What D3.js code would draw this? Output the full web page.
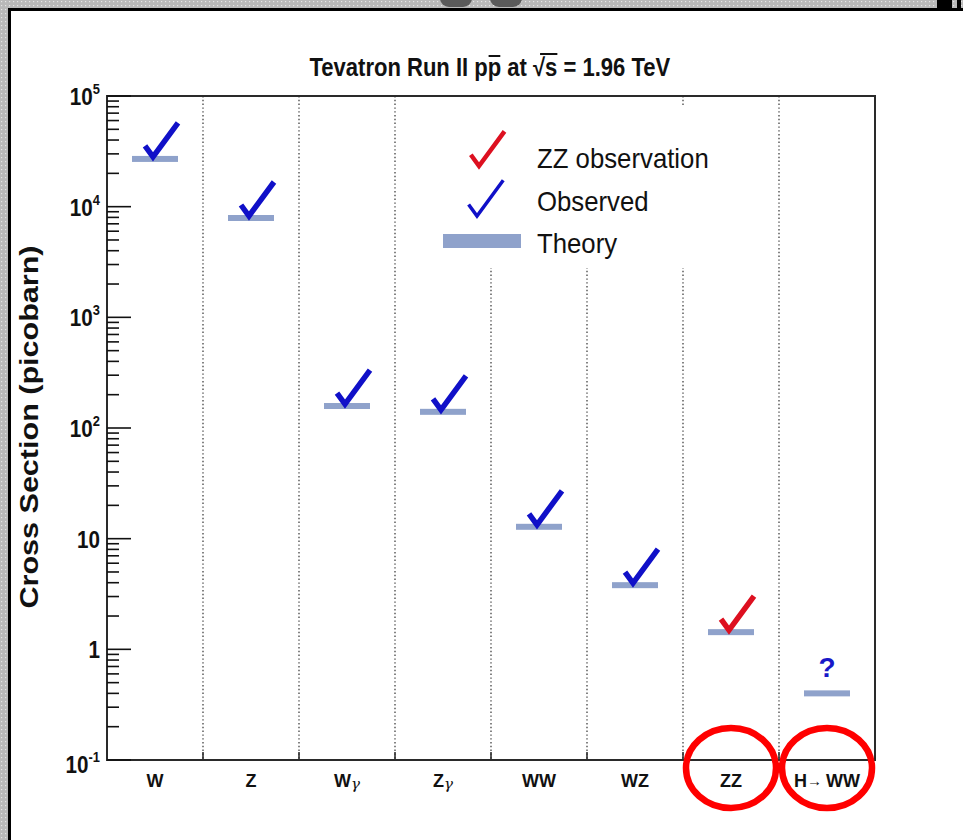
<!DOCTYPE html>
<html>
<head>
<meta charset="utf-8">
<script src="https://cdn.jsdelivr.net/npm/d3@7"></script>
<style>
  html, body { margin: 0; padding: 0; background: #fff; }
  svg { display: block; }
  text { font-family: "Liberation Sans", Arial, Helvetica, sans-serif; }
</style>
</head>
<body>
<svg id="chart" width="963" height="840"></svg>
<script>
// Diboson and W/Z production cross sections at the Tevatron
const categories = ["W", "Z", "Wγ", "Zγ", "WW", "WZ", "ZZ", "H→WW"];
const theory = [27000, 7900, 158, 140, 12.8, 3.8, 1.43, 0.40];          // pb
const status = ["observed", "observed", "observed", "observed", "observed", "observed", "zz", "unknown"];
const majorTicks = [0.1, 1, 10, 100, 1000, 10000, 100000];
const tickBase = ["10", "1", "10", "10", "10", "10", "10"];
const tickExp = ["-1", "", "", "2", "3", "4", "5"];
const circled = ["ZZ", "H→WW"];
const legendItems = ["ZZ observation", "Observed", "Theory"];

const W = 963, H = 840;
const plot = { left: 107, right: 875, top: 96, bottom: 760 };

const svg = d3.select("#chart");

// ---- page frame ----
const defs = svg.append("defs");
const pat = defs.append("pattern").attr("id", "dots")
  .attr("width", 4).attr("height", 4).attr("patternUnits", "userSpaceOnUse");
pat.append("rect").attr("width", 4).attr("height", 4).attr("fill", "#b9b9b9");
pat.append("rect").attr("x", 1).attr("y", 1).attr("width", 1.2).attr("height", 1.2).attr("fill", "#e4e4e4");

svg.append("rect").attr("width", W).attr("height", H).attr("fill", "#fff");
svg.append("rect").attr("x", 0).attr("y", 0).attr("width", W).attr("height", 8).attr("fill", "url(#dots)");
svg.append("rect").attr("x", 0).attr("y", 0).attr("width", 8).attr("height", H).attr("fill", "url(#dots)");
svg.append("rect").attr("x", 8).attr("y", 8).attr("width", W - 8).attr("height", 3).attr("fill", "#000");
svg.append("rect").attr("x", 8).attr("y", 8).attr("width", 3).attr("height", H - 8).attr("fill", "#000");
// window controls peeking in at the top edge
svg.append("rect").attr("x", 440).attr("y", -12).attr("width", 32).attr("height", 19).attr("rx", 9).attr("fill", "#5a5a5a");
svg.append("rect").attr("x", 490).attr("y", -12).attr("width", 32).attr("height", 19).attr("rx", 9).attr("fill", "#5a5a5a");
svg.append("rect").attr("x", 937).attr("y", 0).attr("width", 15).attr("height", 8).attr("fill", "#000");
svg.append("rect").attr("x", 957).attr("y", 0).attr("width", 4).attr("height", 8).attr("fill", "#000");

// ---- scales ----
const x = d3.scaleBand().domain(categories).range([plot.left, plot.right]);
const y = d3.scaleLog().domain([0.1, 1e5]).range([plot.bottom, plot.top]);

// ---- category dividers (dotted) ----
const dividers = categories.slice(1).map(c => x(c));
svg.append("g").selectAll("line").data(dividers).join("line")
  .attr("x1", d => d).attr("x2", d => d)
  .attr("y1", plot.top).attr("y2", plot.bottom)
  .attr("stroke", "#333").attr("stroke-width", 1.2)
  .attr("stroke-dasharray", "1.4,2.4");
// small solid ticks at the bottom of each divider
svg.append("g").selectAll("line").data(dividers).join("line")
  .attr("x1", d => d).attr("x2", d => d)
  .attr("y1", plot.bottom - 8).attr("y2", plot.bottom)
  .attr("stroke", "#222").attr("stroke-width", 1.5);

// ---- legend (white box hides dividers behind it) ----
const lg = svg.append("g");
lg.append("rect").attr("x", 420).attr("y", plot.top + 1).attr("width", 230).attr("height", 171).attr("fill", "#fff");
lg.append("rect").attr("x", 650).attr("y", plot.top + 11).attr("width", 75).attr("height", 161).attr("fill", "#fff");

// ---- axis frame ----
svg.append("rect")
  .attr("x", plot.left).attr("y", plot.top)
  .attr("width", plot.right - plot.left).attr("height", plot.bottom - plot.top)
  .attr("fill", "none").attr("stroke", "#2a2a2a").attr("stroke-width", 2);

// ---- y ticks ----
const minor = [];
for (let e = -1; e < 5; e++) for (let m = 2; m <= 9; m++) minor.push(m * Math.pow(10, e));
svg.append("g").selectAll("line").data(minor).join("line")
  .attr("x1", plot.left).attr("x2", plot.left + 12)
  .attr("y1", d => y(d)).attr("y2", d => y(d))
  .attr("stroke", "#111").attr("stroke-width", 1.6);
svg.append("g").selectAll("line").data(majorTicks).join("line")
  .attr("x1", plot.left).attr("x2", plot.left + 24)
  .attr("y1", d => y(d)).attr("y2", d => y(d))
  .attr("stroke", "#111").attr("stroke-width", 1.6);

const tl = svg.append("g").selectAll("text").data(majorTicks).join("text")
  .attr("transform", (d, i) => "translate(100," + (y(d) + (i === 0 ? 13 : 9)) + ") scale(0.86,1)")
  .attr("text-anchor", "end").attr("font-weight", "bold")
  .attr("font-size", 24).attr("fill", "#111");
tl.append("tspan").text((d, i) => tickBase[i]);
tl.append("tspan").attr("font-size", 15).attr("dy", -11).text((d, i) => tickExp[i]);

// ---- y title ----
svg.append("text")
  .attr("transform", "translate(38," + 427 + ") rotate(-90)")
  .attr("text-anchor", "middle").attr("font-weight", "bold")
  .attr("font-size", 25).attr("fill", "#111")
  .attr("textLength", 363).attr("lengthAdjust", "spacingAndGlyphs")
  .text("Cross Section (picobarn)");

// ---- title ----
const tg = svg.append("g");
const title = tg.append("text").attr("font-weight", "bold").attr("font-size", 25).attr("fill", "#111");
const parts = ["Tevatron Run II p", "p", " at ", "√", "s", " = 1.96 TeV"];
parts.forEach(p => title.append("tspan").text(p));
const tw = title.node().getComputedTextLength();
const sx = 361 / tw;
tg.attr("transform", "translate(" + (490 - 361 / 2) + ",76) scale(" + sx + ",1)");
{
  const tn = title.node();
  const iPbar = parts[0].length;
  const iSqrt = iPbar + 1 + parts[2].length;
  const a = tn.getStartPositionOfChar(iPbar).x, b = tn.getEndPositionOfChar(iPbar).x;
  tg.append("line").attr("x1", a + 1).attr("x2", b - 1).attr("y1", -20).attr("y2", -20)
    .attr("stroke", "#111").attr("stroke-width", 2);
  const c = tn.getStartPositionOfChar(iSqrt).x, e = tn.getEndPositionOfChar(iSqrt + 1).x;
  tg.append("line").attr("x1", c + 8).attr("x2", e).attr("y1", -22).attr("y2", -22)
    .attr("stroke", "#111").attr("stroke-width", 2);
}

// ---- x labels ----
const xl = svg.append("g").selectAll("text").data(categories).join("text")
  .attr("x", d => x(d) + x.bandwidth() / 2).attr("y", 787)
  .attr("text-anchor", "middle").attr("font-size", 18).attr("font-weight", "bold").attr("fill", "#111");
xl.each(function (d) {
  const t = d3.select(this);
  if (d.includes("γ")) {
    t.append("tspan").text(d.replace("γ", ""));
    t.append("tspan").attr("font-weight", "normal").attr("font-style", "italic")
      .attr("font-family", "DejaVu Serif, serif").attr("font-size", 15).attr("dy", 2).text("γ");
  } else if (d.includes("→")) {
    const [a, b] = d.split("→");
    t.append("tspan").text(a);
    t.append("tspan").attr("font-weight", "normal").attr("font-size", 15).attr("dy", -1).text("→ ");
    t.append("tspan").attr("dy", 1).text(b);
  } else {
    t.text(d);
  }
});

// ---- theory bars ----
const barW = 46, barH = 6;
svg.append("g").selectAll("rect").data(categories).join("rect")
  .attr("x", d => x(d) + x.bandwidth() / 2 - barW / 2)
  .attr("y", (d, i) => y(theory[i]) - barH / 2)
  .attr("width", barW).attr("height", barH)
  .attr("fill", "#8fa2cb");

// ---- check marks / question mark ----
function checkPath(vx, vy, s) {
  return "M" + (vx - 8 * s) + "," + (vy - 11 * s) +
         "L" + vx + "," + vy +
         "L" + (vx + 25 * s) + "," + (vy - 34 * s);
}
const colors = { observed: "#1010c8", zz: "#dd1020" };
categories.forEach((c, i) => {
  const cx = x(c) + x.bandwidth() / 2;
  const vy = y(theory[i]) - 2;
  if (status[i] === "unknown") {
    svg.append("text").attr("x", cx).attr("y", vy - 14)
      .attr("text-anchor", "middle").attr("font-weight", "bold").attr("font-size", 28)
      .attr("fill", "#1818c8").text("?");
  } else {
    svg.append("path").attr("d", checkPath(cx - 2, vy, 1))
      .attr("fill", "none").attr("stroke", colors[status[i]])
      .attr("stroke-width", 5.5).attr("stroke-linejoin", "miter").attr("stroke-miterlimit", 8);
  }
});

// ---- legend entries ----
lg.append("path").attr("d", checkPath(479, 166, 1.02)).attr("fill", "none")
  .attr("stroke", colors.zz).attr("stroke-width", 4.5).attr("stroke-miterlimit", 8);
lg.append("path").attr("d", checkPath(477, 216, 1.05)).attr("fill", "none")
  .attr("stroke", colors.observed).attr("stroke-width", 3.5).attr("stroke-miterlimit", 8);
lg.append("rect").attr("x", 443).attr("y", 234).attr("width", 78).attr("height", 14).attr("fill", "#8fa2cb");
lg.selectAll("text.lt").data(legendItems).join("text").attr("class", "lt")
  .attr("transform", (d, i) => "translate(537," + (168 + i * 42.5) + ") scale(0.92,1)")
  .attr("font-size", 28).attr("fill", "#111").text(d => d);

// ---- highlight circles ----
svg.append("g").selectAll("ellipse").data(circled).join("ellipse")
  .attr("cx", d => x(d) + x.bandwidth() / 2).attr("cy", 768)
  .attr("rx", 45).attr("ry", 40)
  .attr("fill", "none").attr("stroke", "#ff0000").attr("stroke-width", 6.5);
</script>
</body>
</html>
